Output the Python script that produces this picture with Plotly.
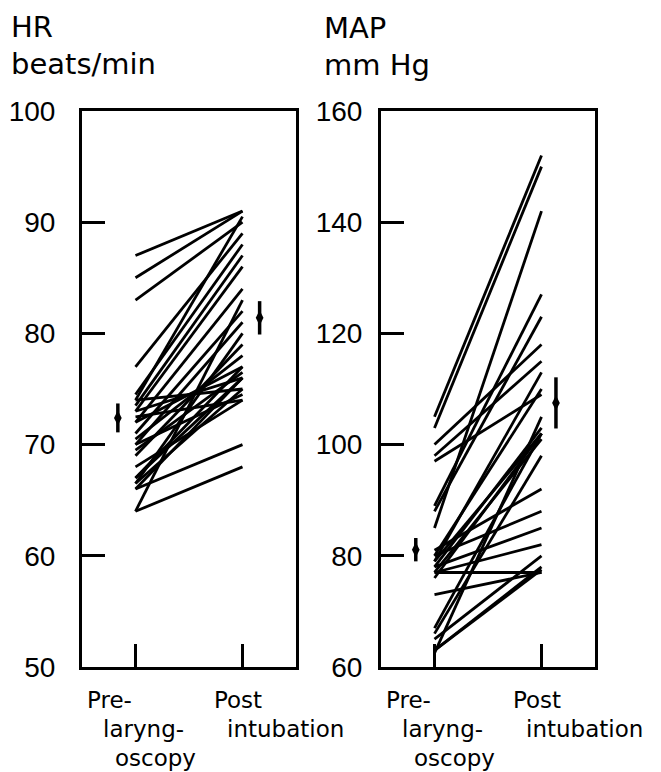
import plotly.graph_objects as go

# ---------------- data ----------------
hr_pre = [87, 85, 83, 77, 74.5, 74, 73.5, 73, 72, 71, 70, 69, 70.5, 67, 67, 66.5,
          66, 68, 72.5, 73, 74, 72, 66.5, 64, 64, 66, 69.5, 70]
hr_post = [91, 91, 90, 89, 88, 90.5, 87, 86, 84, 82, 81, 79, 78, 77, 76, 75,
           76, 74, 74, 76, 75, 77, 80, 83, 68, 70, 76.5, 74.5]

map_pre = [105, 103, 100, 98, 97, 89, 88, 85, 81, 80, 80, 79, 79, 78, 78, 77,
           77, 77, 76, 73, 67, 66, 65, 63, 63, 62.5]
map_post = [152, 150, 118, 115, 109, 127, 123, 142, 92, 110, 88, 113, 102, 103, 85, 77,
            101, 82, 102, 77, 102, 98, 80, 78, 77.5, 105]

hr_mean = [72.4, 81.4]
hr_se = [1.3, 1.5]
map_mean = [81.1, 107.5]
map_se = [2.1, 4.6]

time_points = [1, 3]
hr_ticks = [50, 60, 70, 80, 90, 100]
map_ticks = [60, 80, 100, 120, 140, 160]

# ---------------- layout helpers ----------------
W, H = 661, 772
def px(x):
    return x / W
def py(y):
    return 1 - y / H

fig = go.Figure()

def add_lines(pre, post, xa, ya):
    xs, ys = [], []
    for a, b in zip(pre, post):
        xs += [time_points[0], time_points[1], None]
        ys += [a, b, None]
    fig.add_trace(go.Scatter(x=xs, y=ys, mode="lines", xaxis=xa, yaxis=ya,
                             line=dict(color="black", width=2.8),
                             showlegend=False, hoverinfo="skip"))

def add_means(means, ses, xpos, xa, ya):
    fig.add_trace(go.Scatter(x=xpos, y=means, mode="markers", xaxis=xa, yaxis=ya,
                             marker=dict(symbol="diamond-tall", size=11, color="black"),
                             error_y=dict(type="data", array=ses, visible=True,
                                          color="black", thickness=3.5, width=0),
                             showlegend=False, hoverinfo="skip"))

add_lines(hr_pre, hr_post, "x", "y")
add_lines(map_pre, map_post, "x2", "y2")
add_means(hr_mean, hr_se, [0.67, 3.32], "x", "y")
add_means(map_mean, map_se, [0.65, 3.27], "x2", "y2")

tickfont = dict(family="Liberation Sans, Arial, sans-serif", size=28, color="black")
xcommon = dict(range=[0, 4], tickvals=time_points, ticktext=["", ""], ticks="inside",
               ticklen=23, tickwidth=3, tickcolor="black", showline=True, linewidth=3,
               linecolor="black", mirror=True, showgrid=False, zeroline=False,
               fixedrange=True)
ycommon = dict(ticks="inside", ticklen=23, tickwidth=3, tickcolor="black",
               showline=True, linewidth=3, linecolor="black", mirror=True,
               showgrid=False, zeroline=False, tickfont=tickfont, fixedrange=True)

ydom = [py(667), py(111)]
fig.update_layout(
    width=W, height=H,
    margin=dict(l=0, r=0, t=0, b=0, autoexpand=False),
    paper_bgcolor="white", plot_bgcolor="white",
    xaxis=dict(domain=[px(82), px(296)], anchor="y", **xcommon),
    yaxis=dict(domain=ydom, anchor="x", range=[50, 100], tickvals=hr_ticks,
               ticklabelstandoff=18, **ycommon),
    xaxis2=dict(domain=[px(381), px(595)], anchor="y2", **xcommon),
    yaxis2=dict(domain=ydom, anchor="x2", range=[60, 160], tickvals=map_ticks,
                ticklabelstandoff=10, **ycommon),
)

tfont = dict(family="DejaVu Sans, sans-serif", size=29, color="black")
lfont = dict(family="DejaVu Sans, sans-serif", size=23, color="black")

def ann(text, x, y, font):
    fig.add_annotation(text=text, x=px(x), y=py(y), xref="paper", yref="paper",
                       xanchor="left", yanchor="middle", showarrow=False,
                       font=font, borderpad=0)

ann("HR", 10, 27, tfont)
ann("beats/min", 10, 64, tfont)
ann("MAP", 323, 28, tfont)
ann("mm Hg", 323, 65, tfont)

for off in (0, 299):
    ann("Pre-", 86 + off, 700, lfont)
    ann("laryng-", 102 + off, 729, lfont)
    ann("oscopy", 114 + off, 758, lfont)
    ann("Post", 213 + off, 700, lfont)
    ann("intubation", 226 + off, 729, lfont)

fig.write_html("out.html")
